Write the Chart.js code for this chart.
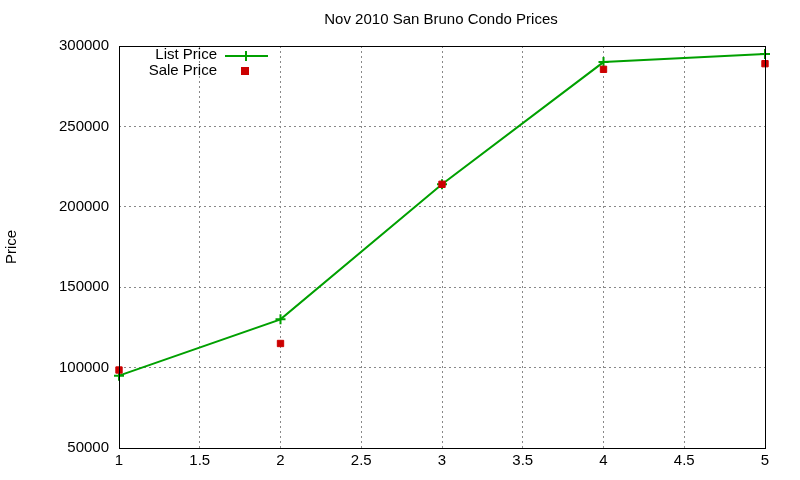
<!DOCTYPE html>
<html>
<head>
<meta charset="utf-8">
<script src="https://cdn.jsdelivr.net/npm/chart.js@4"></script>
<style>
  body { margin: 0; background: #fff; }
</style>
</head>
<body>
<canvas id="chart" width="800" height="480"></canvas>
<script>
// Data
const xValues = [1, 2, 3, 4, 5];
const listPrice = [95000, 130000, 214000, 290000, 295000];
const salePrice = [98500, 115000, 214000, 285500, 289000];

const green = '#00a000';
const red = '#cc0000';
const font = '"Liberation Sans", Arial, sans-serif';

// Title, y label, frame and in-plot legend drawn by hand, gnuplot style
const decorations = {
    id: 'decorations',
    afterDraw(chart) {
        const c = chart.ctx;
        const a = chart.chartArea;
        c.save();
        c.strokeStyle = '#000';
        c.lineWidth = 1;
        c.strokeRect(a.left + 0.5, a.top + 0.5, a.right - a.left, a.bottom - a.top);

        c.fillStyle = '#000';
        c.font = '15px ' + font;
        c.textAlign = 'center';
        c.textBaseline = 'middle';
        c.fillText('Nov 2010 San Bruno Condo Prices', 441, 20);

        c.save();
        c.translate(12, 247);
        c.rotate(-Math.PI / 2);
        c.fillText('Price', 0, 0);
        c.restore();

        // legend
        c.textAlign = 'right';
        c.fillText('List Price', 217, 55);
        c.fillText('Sale Price', 217, 71);
        c.strokeStyle = green;
        c.lineWidth = 2;
        c.beginPath();
        c.moveTo(225, 56); c.lineTo(268, 56);
        c.moveTo(246, 51); c.lineTo(246, 61);
        c.stroke();
        c.fillStyle = red;
        c.fillRect(241, 67, 8, 8);
        c.restore();
    }
};

new Chart(document.getElementById('chart'), {
    type: 'scatter',
    data: {
        datasets: [
            {
                label: 'Sale Price',
                data: xValues.map((x, i) => ({ x: x, y: salePrice[i] })),
                showLine: false,
                pointStyle: 'rect',
                pointRadius: 4.5,
                backgroundColor: red,
                borderColor: red,
                clip: false
            },
            {
                label: 'List Price',
                data: xValues.map((x, i) => ({ x: x, y: listPrice[i] })),
                showLine: true,
                borderColor: green,
                borderWidth: 2,
                pointStyle: 'cross',
                pointRadius: 5,
                pointBorderWidth: 2,
                pointBorderColor: green,
                backgroundColor: green,
                clip: false
            }
        ]
    },
    options: {
        responsive: false,
        animation: false,
        layout: { padding: { left: 0, right: 35, top: 46, bottom: 0 } },
        plugins: {
            legend: { display: false },
            title: { display: false },
            tooltip: { enabled: false }
        },
        scales: {
            x: {
                type: 'linear',
                min: 1,
                max: 5,
                afterFit: s => { s.height = 32; },
                ticks: {
                    stepSize: 0.5,
                    color: '#000',
                    font: { size: 15, family: font },
                    padding: 4,
                    callback: v => String(v)
                },
                grid: { color: '#888', drawTicks: false },
                border: { display: false, dash: [2, 3] }
            },
            y: {
                min: 50000,
                max: 300000,
                afterFit: s => { s.width = 119; },
                ticks: {
                    stepSize: 50000,
                    color: '#000',
                    font: { size: 15, family: font },
                    padding: 10,
                    callback: v => String(v)
                },
                grid: { color: '#888', drawTicks: false },
                border: { display: false, dash: [2, 3] }
            }
        }
    },
    plugins: [decorations]
});
</script>
</body>
</html>
